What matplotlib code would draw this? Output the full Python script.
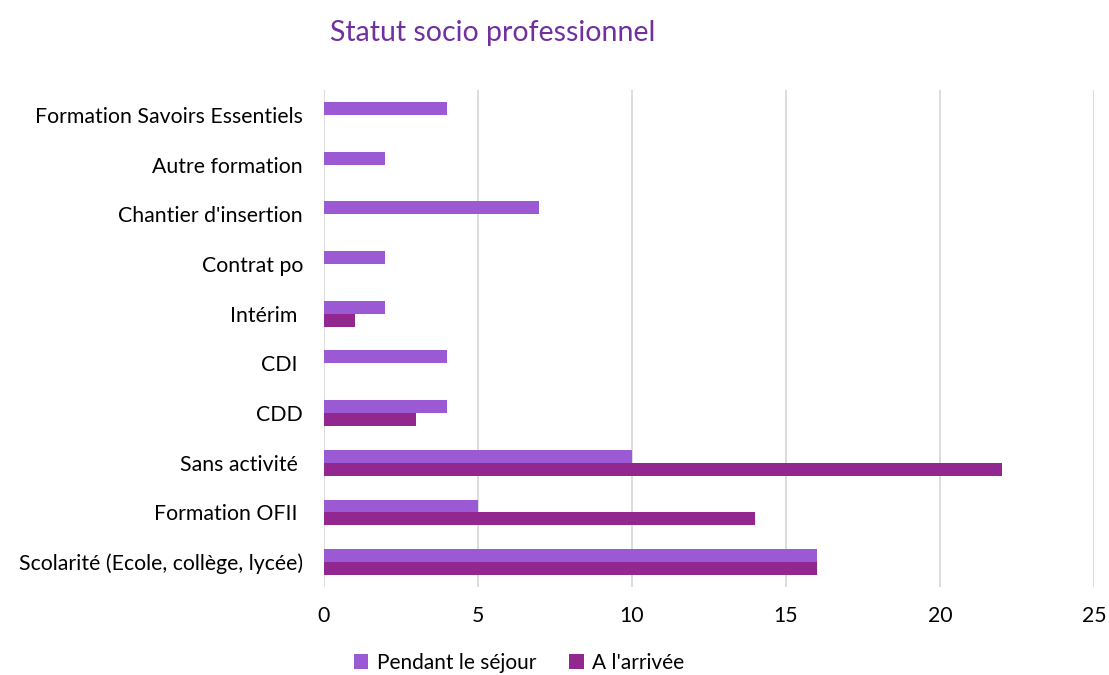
import matplotlib.pyplot as plt
import numpy as np

plt.rcParams['font.family'] = ['Lato', 'DejaVu Sans']

categories = ["Formation Savoirs Essentiels", "Autre formation", "Chantier d'insertion",
              "Contrat po", "Intérim ", "CDI ", "CDD", "Sans activité ",
              "Formation OFII ", "Scolarité (Ecole, collège, lycée)"]
pendant = [4, 2, 7, 2, 2, 4, 4, 10, 5, 16]
arrivee = [0, 0, 0, 0, 1, 0, 3, 22, 14, 16]

c_pendant = '#9B59D3'
c_arrivee = '#92278F'

fig = plt.figure(figsize=(11.09, 6.75), dpi=100)
ax = fig.add_axes([0.292, 0.1304, 0.6945, 0.7363])

y = np.arange(len(categories))[::-1]
h = 0.26
ax.barh(y + h / 2, pendant, height=h, color=c_pendant, label='Pendant le séjour', zorder=3)
ax.barh(y - h / 2, arrivee, height=h, color=c_arrivee, label="A l'arrivée", zorder=3)

ax.set_xlim(0, 25)
ax.set_ylim(-0.5, len(categories) - 0.5)
ax.set_xticks(range(0, 26, 5))
ax.set_yticks(y)
ax.set_yticklabels(categories)
ax.tick_params(axis='both', length=0, labelsize=15.3)
ax.tick_params(axis='x', pad=14)
ax.tick_params(axis='y', pad=15)
ax.grid(axis='x', color='#D9D9D9', linewidth=1.3, zorder=0)
for s in ax.spines.values():
    s.set_visible(False)

fig.text(0.444, 0.951, 'Statut socio professionnel', ha='center', va='center',
         fontsize=20.5, color='#7030A0')

fig.legend(loc='center', bbox_to_anchor=(0.468, 0.018), ncol=2, frameon=False,
           fontsize=15, handlelength=0.7, handleheight=0.7, handletextpad=0.4,
           columnspacing=1.6)

fig.savefig('out.png', dpi=100)
